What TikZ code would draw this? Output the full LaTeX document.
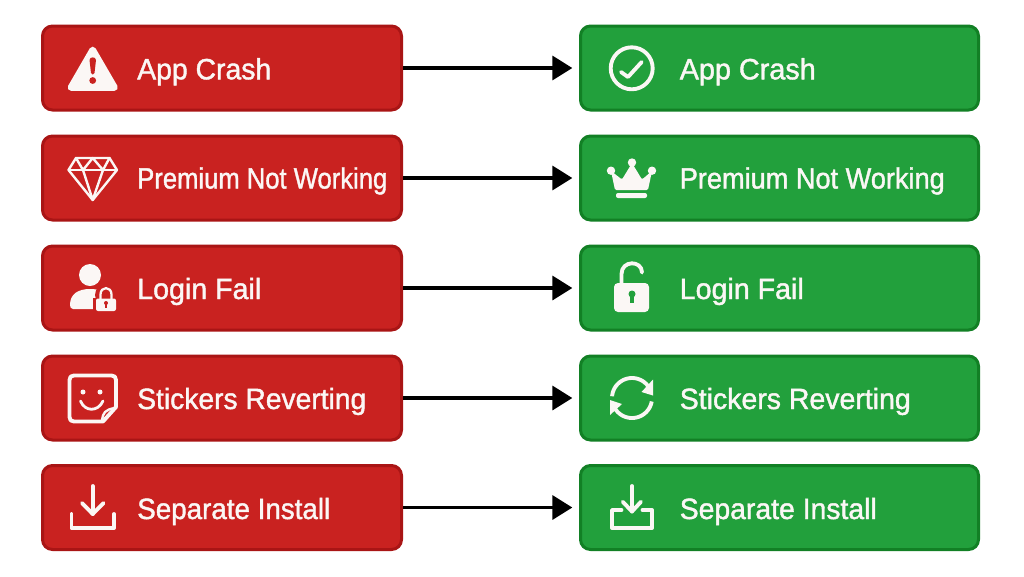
\documentclass[tikz,border=0pt]{standalone}
\usepackage{graphicx}
\usepackage{fontspec}
\setmainfont[FakeBold=1.4]{Liberation Sans}
\usetikzlibrary{arrows.meta}
\definecolor{rf}{HTML}{C92220}
\definecolor{rb}{HTML}{A91515}
\definecolor{gf}{HTML}{22A03C}
\definecolor{gb}{HTML}{128025}
\definecolor{tx}{HTML}{FBF7F5}
\tikzset{
  x=0.75pt,y=-0.75pt,
  box/.style={draw,line width=2.25pt,rounded corners=7.5pt,minimum height=63pt,inner sep=0pt},
  redbox/.style={box,fill=rf,draw=rb,minimum width=269.25pt},
  greenbox/.style={box,fill=gf,draw=gb,minimum width=298.5pt},
  lab/.style={anchor=base west,inner sep=0pt,text=tx,font=\fontsize{22}{26}\selectfont},
  conn/.style={line width=2.6pt,black,-{Triangle[length=15pt,width=18pt]},shorten >=5pt},
  ico/.style={draw=tx,line width=2.9pt,line cap=round,line join=round},
  icothin/.style={draw=tx,line width=1.8pt,line cap=round,line join=round}
}
\newcommand{\fitw}[2]{\resizebox{#1pt}{\height}{#2}}
\begin{document}
\begin{tikzpicture}
\useasboundingbox[fill=white] (0,0) rectangle (1024,576);
\foreach \n/\y in {1/68,2/178,3/288,4/398,5/507.5}{
  \node[redbox] (L\n) at (222,\y) {};
  \node[greenbox] (R\n) at (779.5,\y) {};
  \draw[conn] (L\n.east) -- (R\n.west);
}
\foreach \n/\y/\t/\a/\b in {1/79.3/App Crash/100.5/102,2/188.5/Premium Not Working/187.5/198.75,3/299/Login Fail/93/93,4/409/Stickers Reverting/171.75/173.25,5/519/Separate Install/144.75/147.75}{
  \node[lab] (LT\n) at (137,\y) {\fitw{\a}{\t}};
  \node[lab] (RT\n) at (679.5,\y) {\fitw{\b}{\t}};
}
% warning
\draw[draw=tx,fill=tx,line width=5pt,line join=round] (92.7,50) -- (71,87.5) -- (114.5,87.5) -- cycle;
\fill[rf] (89.5,60) .. controls (89.5,56.5) and (96,56.5) .. (96,60) -- (94.5,73) .. controls (94.2,75) and (91.2,75) .. (91,73) -- cycle;
\fill[rf] (92.7,80.5) circle (3.4);
% diamond
\draw[icothin] (76,158) -- (109.5,158) -- (117,170) -- (92.7,200) -- (68.5,170) -- cycle;
\draw[icothin] (68.5,170) -- (117,170);
\draw[icothin] (76,158) -- (83,170) -- (92.7,158) -- (103,170) -- (109.5,158);
\draw[icothin] (83,170) -- (92.7,200) -- (103,170);
% user lock
\fill[tx] (90,275) circle (11);
\fill[tx] (70,305) .. controls (70,294) and (78,289) .. (90,289) .. controls (100,289) and (106,292) .. (108,298) -- (108,309) -- (73,309) .. controls (71,309) and (70,307) .. (70,305) -- cycle;
\fill[rf] (93,298) rectangle (119,313);
\fill[rf] (106,295) circle (11);
\draw[tx,line width=1.7pt] (100.5,299) -- (100.5,294.5) .. controls (100.5,286) and (111.5,286) .. (111.5,294.5) -- (111.5,299);
\fill[tx,rounded corners=1.5pt] (96,298.5) rectangle (116,311);
\fill[rf] (106,303) circle (2);
\fill[rf] (105.2,303) rectangle (106.8,307.5);
% sticker
\draw[ico] (101,421.5) -- (74,421.5) .. controls (71,421.5) and (69.5,420) .. (69.5,417) -- (69.5,380) .. controls (69.5,377) and (71,375.5) .. (74,375.5) -- (111.5,375.5) .. controls (114.5,375.5) and (116,377) .. (116,380) -- (116,407) -- (103,421.5) -- cycle;
\draw[icothin] (102,420) .. controls (103,413) and (105,409.5) .. (115,408);
\fill[tx] (83,392) circle (2.5);
\fill[tx] (100,392) circle (2.5);
\draw[ico,line width=2.1pt] (80.5,401) .. controls (85,412) and (98,412) .. (103,401);
% download
\draw[ico] (92.7,486) -- (92.7,514);
\draw[ico] (82,503) -- (92.7,514) -- (103.5,503);
\draw[ico] (71.5,514) -- (71.5,528) -- (114,528) -- (114,514);
% check circle
\draw[ico] (631.7,68.3) circle (21);
\draw[ico] (621,72) -- (628,77) -- (641.7,62);
% crown
\fill[tx,rounded corners=1pt] (615,190) -- (611,171) -- (622,179.5) -- (632,163) -- (642,179.5) -- (652,171) -- (648,190) -- cycle;
\fill[tx] (632,162.5) circle (4.2);
\fill[tx] (611,170.7) circle (4.2);
\fill[tx] (652,170.7) circle (4.2);
\fill[tx,rounded corners=1.5pt] (616,193) rectangle (647,198);
% open lock
\fill[tx,rounded corners=3pt] (614,283) rectangle (649,312);
\draw[ico] (621.5,283) -- (621.5,274) .. controls (621.5,260) and (642,260) .. (642,272.5);
\fill[gf] (632,294) circle (3.5);
\fill[gf] (630.4,295) rectangle (633.6,303);
% refresh
\draw[ico,line cap=butt] plot[domain=5:150,samples=40,smooth] ({632+20*cos(\x+25)},{398-20*sin(\x+25)}) ;
\draw[ico,line cap=butt] plot[domain=185:325,samples=40,smooth] ({632+20*cos(\x+25)},{398-20*sin(\x+25)});
\fill[tx] (653,379.5) -- (653,395.5) -- (641.5,392) -- cycle;
\fill[tx] (610,415) -- (610,400) -- (622,404) -- cycle;
% install
\draw[ico] (632,486) -- (632,511.5);
\draw[ico] (622.7,501.7) -- (632,511.5) -- (641,501.7);
\draw[ico] (621.5,510) -- (612,510) -- (612,528) -- (652,528) -- (652,510) -- (642.5,510);
\end{tikzpicture}
\end{document}
